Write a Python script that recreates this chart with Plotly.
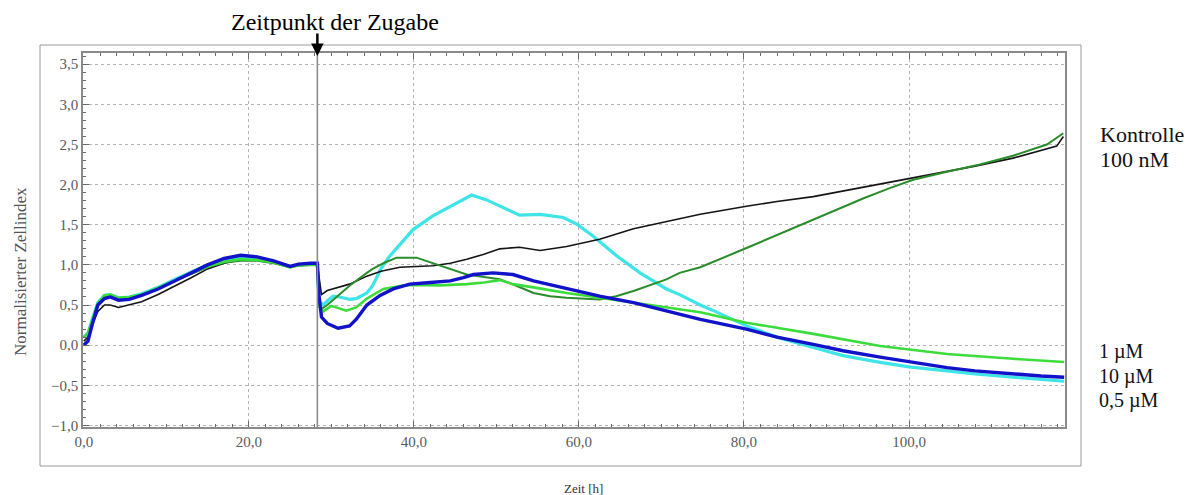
import plotly.graph_objects as go

# ---------------- data ----------------
zugabe_time = 28.3

t_kontrolle = [0, 0.5, 1, 1.7, 2.5, 3.2, 4.2, 5.5, 7, 9, 11, 13, 15, 17, 19, 21, 23, 25, 26, 27.5, 28.3,
               28.5, 28.8, 29.5, 31, 32.2, 34.3, 36, 38.3, 40, 42.3, 44.4, 46.4, 48.4, 50.4, 52.8, 55.3,
               58.5, 62.5, 66.6, 70.6, 72.2, 74.7, 80.3, 84, 88.4, 92, 96.5, 100, 104.6, 108, 112.6,
               116, 117.9, 118.7]
v_kontrolle = [0.05, 0.1, 0.25, 0.42, 0.5, 0.5, 0.47, 0.5, 0.54, 0.63, 0.73, 0.84, 0.95, 1.02, 1.06, 1.06,
               1.03, 0.97, 1.0, 1.01, 1.01,
               0.85, 0.63, 0.68, 0.72, 0.76, 0.86, 0.92, 0.97, 0.98, 0.99, 1.02, 1.07, 1.13, 1.2, 1.22, 1.18,
               1.23, 1.32, 1.45, 1.54, 1.57, 1.63, 1.73, 1.79, 1.85, 1.92, 2.0, 2.07, 2.16, 2.23, 2.33,
               2.42, 2.48, 2.6]

t_100nM = [0, 0.5, 1, 1.7, 2.5, 3.2, 4.2, 5.5, 7, 9, 11, 13, 15, 17, 19, 21, 23, 25, 26, 27.5, 28.3,
           28.5, 28.8, 29.5, 30.6, 32.2, 34.3, 35, 36.3, 37.9, 40.3, 41.5, 43.2, 46.4, 48.5, 50.4, 52.4,
           54.5, 56.5, 58.5, 62.5, 64.5, 66.6, 70.6, 72.2, 74.7, 80.3, 84, 88.4, 91.5, 94.5, 97.5, 100.5,
           104.6, 108.6, 112.6, 116.7, 118.7]
v_100nM = [0.1, 0.15, 0.3, 0.5, 0.6, 0.62, 0.58, 0.58, 0.62, 0.7, 0.8, 0.89, 0.97, 1.03, 1.05, 1.05, 1.02,
           0.97, 0.99, 1.0, 1.0,
           0.5, 0.45, 0.5, 0.6, 0.74, 0.9, 0.95, 1.02, 1.09, 1.09, 1.05, 0.985, 0.88, 0.85, 0.82, 0.74,
           0.65, 0.61, 0.59, 0.57, 0.61, 0.675, 0.82, 0.9, 0.97, 1.21, 1.37, 1.57, 1.7, 1.83, 1.95, 2.06,
           2.16, 2.25, 2.36, 2.5, 2.64]

t_1uM = [0, 0.5, 1, 1.7, 2.5, 3.2, 4.2, 5.5, 7, 9, 11, 13, 15, 17, 19, 21, 23, 25, 26, 27.5, 28.3,
         28.5, 29, 30, 31.8, 33, 34.3, 36.3, 38.5, 40, 43.2, 46.4, 48.5, 50.4, 52, 54.5, 58.5, 62.5,
         66.6, 70.6, 74.7, 80.3, 88.4, 96.5, 104.6, 112.6, 118.8]
v_1uM = [0.1, 0.15, 0.3, 0.52, 0.62, 0.63, 0.59, 0.6, 0.63, 0.71, 0.8, 0.9, 0.98, 1.04, 1.07, 1.06, 1.03,
         0.97, 1.0, 1.0, 1.0,
         0.48, 0.42, 0.49, 0.43, 0.47, 0.58, 0.7, 0.74, 0.75, 0.745, 0.76, 0.78, 0.81, 0.76, 0.72, 0.65,
         0.59, 0.53, 0.47, 0.41, 0.28, 0.14, -0.01, -0.11, -0.17, -0.21]

t_10uM = [0, 0.5, 1, 1.7, 2.5, 3.2, 4.2, 5.5, 7, 9, 11, 13, 15, 17, 19, 21, 23, 25, 26, 27.5, 28.3,
          28.5, 28.8, 29.5, 30.8, 32.2, 33, 34.3, 35.9, 37.5, 39.5, 42, 44.4, 46, 47.2, 49.6, 52, 54.5,
          58.5, 62.5, 66.6, 70.6, 74.7, 80.3, 84, 88.4, 92, 96.5, 100, 104.6, 108, 112.6, 116, 118.8]
v_10uM = [0.0, 0.05, 0.25, 0.5, 0.58, 0.6, 0.56, 0.57, 0.62, 0.7, 0.8, 0.9, 1.0, 1.08, 1.12, 1.1, 1.05,
          0.98, 1.01, 1.02, 1.02,
          0.62, 0.35, 0.27, 0.21, 0.24, 0.32, 0.5, 0.62, 0.7, 0.76, 0.78, 0.8, 0.84, 0.88, 0.9, 0.88, 0.8,
          0.7, 0.61, 0.53, 0.43, 0.32, 0.2, 0.1, 0.01, -0.07, -0.15, -0.21, -0.28, -0.32, -0.36, -0.385, -0.4]

t_05uM = [0, 0.5, 1, 1.7, 2.5, 3.2, 4.2, 5.5, 7, 9, 11, 13, 15, 17, 19, 21, 23, 25, 26, 27.5, 28.3,
          28.5, 29, 29.5, 30.2, 31, 32.2, 33, 34.3, 35, 36, 37, 38, 39.1, 39.9, 42.3, 45.2, 47, 48.8, 51.2,
          52.8, 55.3, 58.1, 59.7, 61.7, 64.6, 67.4, 70.6, 72.2, 74.7, 76.3, 80.3, 84, 88.4, 92, 96.5, 100,
          104.6, 108, 112.6, 116, 118.8]
v_05uM = [0.1, 0.15, 0.32, 0.53, 0.62, 0.63, 0.59, 0.6, 0.64, 0.72, 0.82, 0.91, 1.0, 1.06, 1.09, 1.08, 1.04,
          0.98, 1.0, 1.01, 1.01,
          0.55, 0.5, 0.55, 0.61, 0.6, 0.57, 0.58, 0.65, 0.74, 0.95, 1.1, 1.22, 1.34, 1.44, 1.61, 1.77, 1.87,
          1.81, 1.69, 1.62, 1.63, 1.59, 1.51, 1.36, 1.11, 0.9, 0.7, 0.63, 0.5, 0.43, 0.24, 0.1, -0.03, -0.13,
          -0.215, -0.27, -0.32, -0.36, -0.4, -0.43, -0.45]

right_labels_top = ["Kontrolle", "100 nM"]
right_labels_bottom = ["1 µM", "10 µM", "0,5 µM"]

# ---------------- figure ----------------
W, H = 1202, 495
L, R, T, B = 83, 1065, 53, 427  # plot area in pixels


def px_x(px):
    return (px - L) / (R - L)


def px_y(py):
    return (B - py) / (B - T)


SERIF = "Liberation Serif, Times New Roman, serif"

series = [
    ("0,5 µM", t_05uM, v_05uM, "#3ee4e6", 3.2),
    ("Kontrolle", t_kontrolle, v_kontrolle, "#151515", 1.6),
    ("100 nM", t_100nM, v_100nM, "#2b8c2b", 2.0),
    ("1 µM", t_1uM, v_1uM, "#3ddc3d", 2.6),
    ("10 µM", t_10uM, v_10uM, "#1212c8", 3.4),
]

fig = go.Figure()
for name, t, v, color, width in series:
    fig.add_trace(go.Scatter(x=t, y=v, mode="lines", name=name, showlegend=False,
                             line=dict(color=color, width=width)))

axis_common = dict(
    showline=True, linecolor="#8a8a8a", linewidth=1.5,
    ticks="inside", tickcolor="#6a6a6a", ticklen=6, tickwidth=1,
    showgrid=True, gridcolor="#b4b4b4", griddash="dot", gridwidth=1,
    zeroline=False, tickformat=".1f",
    tickfont=dict(family=SERIF, size=15, color="#5a5a5a"),
)

fig.update_layout(
    width=W, height=H,
    margin=dict(l=L, r=W - R, t=T, b=H - B, pad=0),
    paper_bgcolor="white", plot_bgcolor="white",
    separators=",.",
    xaxis=dict(range=[-0.1, 118.9], tick0=0, dtick=20, mirror="ticks",
               minor=dict(tick0=0, dtick=2, ticks="inside", ticklen=3, tickcolor="#6a6a6a", showgrid=False),
               **axis_common),
    yaxis=dict(range=[-1.02, 3.64], tick0=0, dtick=0.5, mirror=True,
               minor=dict(tick0=0, dtick=0.1, ticks="inside", ticklen=3, tickcolor="#6a6a6a", showgrid=False),
               **axis_common),
)

# outer frame
fig.add_shape(type="rect", xref="paper", yref="paper",
              x0=px_x(40), x1=px_x(1081), y0=px_y(466), y1=px_y(45),
              line=dict(color="#9a9a9a", width=1), layer="below")

# vertical line at the time of addition
fig.add_shape(type="line", xref="x", yref="y domain", x0=zugabe_time, x1=zugabe_time, y0=0, y1=1,
              line=dict(color="#8c8c8c", width=1.6))

# arrow + text
fig.add_annotation(x=zugabe_time, y=px_y(56), xref="x", yref="paper", text="",
                   showarrow=True, ax=0, ay=-24, arrowhead=2, arrowsize=1, arrowwidth=2.5,
                   arrowcolor="black")
fig.add_annotation(x=px_x(334.5), y=px_y(22), xref="paper", yref="paper", text="Zeitpunkt der Zugabe",
                   showarrow=False, xanchor="center", yanchor="middle",
                   font=dict(family=SERIF, size=24, color="black"))

# axis titles
fig.add_annotation(x=px_x(20), y=px_y(272), xref="paper", yref="paper", text="Normalisierter Zellindex",
                   textangle=-90, showarrow=False, xanchor="center", yanchor="middle",
                   font=dict(family=SERIF, size=17, color="#555555"))
fig.add_annotation(x=px_x(583), y=px_y(488), xref="paper", yref="paper", text="Zeit [h]",
                   showarrow=False, xanchor="center", yanchor="middle",
                   font=dict(family=SERIF, size=13, color="#333333"))

# right-hand labels
for txt, py in zip(right_labels_top, [134, 159]):
    fig.add_annotation(x=px_x(1098), y=px_y(py), xref="paper", yref="paper", text=txt,
                       showarrow=False, xanchor="left", yanchor="middle",
                       font=dict(family=SERIF, size=22, color="#111111"))
for txt, py in zip(right_labels_bottom, [351, 376, 400]):
    fig.add_annotation(x=px_x(1098), y=px_y(py), xref="paper", yref="paper", text=txt,
                       showarrow=False, xanchor="left", yanchor="middle", borderpad=0,
                       font=dict(family=SERIF, size=20, color="#111111"))

fig.write_html("out.html")
